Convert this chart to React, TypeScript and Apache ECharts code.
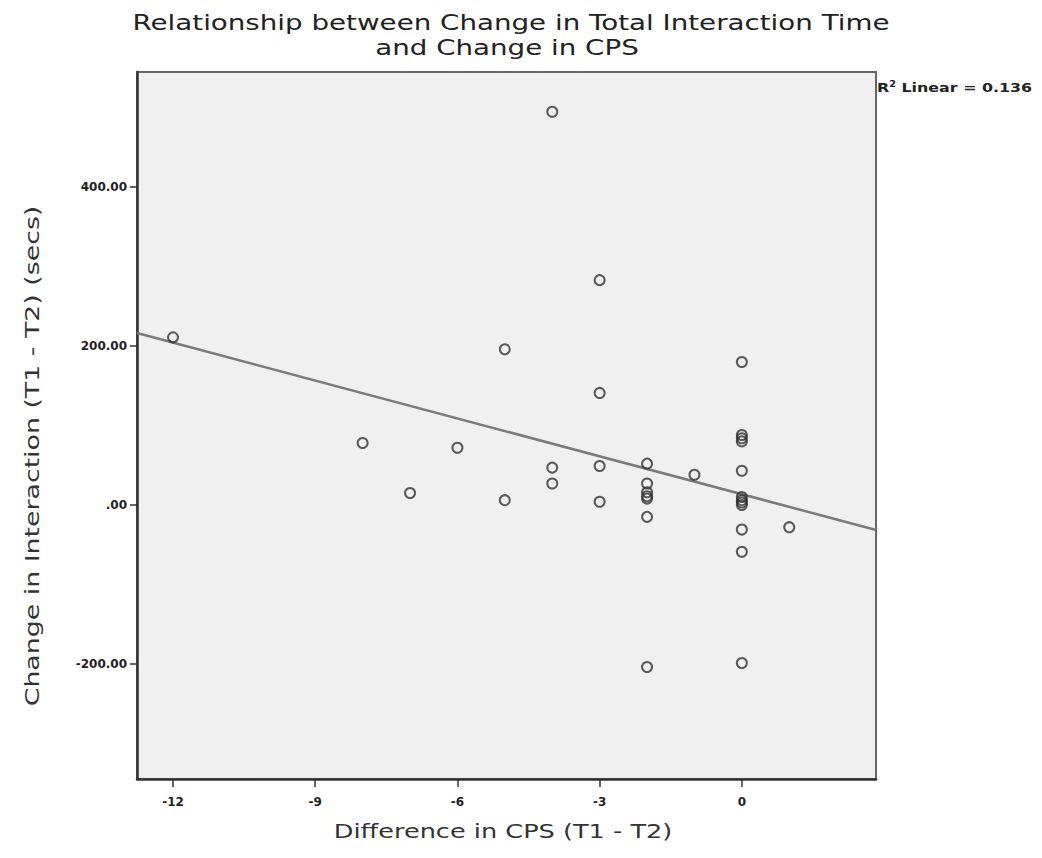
import React, { useEffect, useRef } from "react";
import * as echarts from "echarts";

// Difference in CPS (x) and change in interaction time (y)
const cpsDiff = [
  -12,
  -8,
  -7,
  -6,
  -5, -5,
  -4, -4, -4,
  -3, -3, -3, -3,
  -2, -2, -2, -2, -2, -2, -2,
  -1,
  0, 0, 0, 0, 0, 0, 0, 0, 0, 0, 0, 0,
  1,
];
const interactionChange = [
  211,
  78,
  15,
  72,
  196, 6,
  495, 47, 27,
  283, 141, 49, 4,
  52, 27, 16, 11, 8, -15, -204,
  38,
  180, 88, 84, 80, 43, 10, 6, 3, 0, -31, -59, -199,
  -28,
];

const xTicks = [-12, -9, -6, -3, 0];
const yTicks = [-200, 0, 200, 400];
const xRange = [-12.76, 2.83];
const yRange = [-345, 545];

// Linear fit
const fitIntercept = 13.5;
const fitSlope = -15.9;
const rSquared = "0.136";

const titleLines = [
  "Relationship between Change in Total Interaction Time",
  "and Change in CPS",
];
const xName = "Difference in CPS (T1 - T2)";
const yName = "Change in Interaction (T1 - T2) (secs)";

export default function App() {
  const ref = useRef<HTMLDivElement>(null);
  useEffect(() => {
    if (!ref.current) return;
    const chart = echarts.init(ref.current, null, { renderer: "svg" });
    const points = cpsDiff.map((x, i) => [x, interactionChange[i]]);
    const fitData = xRange.map((x) => [x, fitIntercept + fitSlope * x]);
    const tickLabel = {
      fontFamily: "DejaVu Sans",
      fontWeight: "bold" as const,
      fontSize: 12,
      color: "#222",
    };
    chart.setOption({
      animation: false,
      backgroundColor: "#ffffff",
      grid: {
        left: 137,
        top: 72,
        right: 166,
        bottom: 79,
        show: true,
        backgroundColor: "#f0f0f0",
        borderColor: "#666",
        borderWidth: 2,
      },
      xAxis: {
        type: "value",
        min: xRange[0],
        max: xRange[1],
        splitLine: { show: false },
        axisLine: { show: true, onZero: false, lineStyle: { color: "#333", width: 2.5 } },
        axisTick: {
          show: true,
          length: 8,
          customValues: xTicks,
          lineStyle: { color: "#333", width: 1.5 },
        },
        axisLabel: {
          ...tickLabel,
          margin: 17,
          customValues: xTicks,
          formatter: (v: number) => String(v),
        },
      },
      yAxis: {
        type: "value",
        min: yRange[0],
        max: yRange[1],
        splitLine: { show: false },
        axisLine: { show: true, onZero: false, lineStyle: { color: "#333", width: 2.5 } },
        axisTick: {
          show: true,
          length: 7,
          customValues: yTicks,
          lineStyle: { color: "#333", width: 1.5 },
        },
        axisLabel: {
          ...tickLabel,
          margin: 10,
          customValues: yTicks,
          formatter: (v: number) => (v === 0 ? ".00" : v.toFixed(2)),
        },
      },
      series: [
        {
          type: "line",
          data: fitData,
          showSymbol: false,
          symbol: "none",
          silent: true,
          lineStyle: { color: "#7a7a7a", width: 2.5 },
          z: 2,
        },
        {
          type: "scatter",
          data: points,
          symbol: "circle",
          symbolSize: 10,
          itemStyle: {
            color: "rgba(255,255,255,0)",
            borderColor: "#333",
            borderWidth: 2,
          },
          z: 3,
        },
      ],
      graphic: [
        {
          type: "text",
          x: 511,
          y: 23,
          scaleX: 1.32,
          style: {
            text: titleLines[0],
            textAlign: "center",
            textVerticalAlign: "middle",
            fontFamily: "DejaVu Sans",
            fontSize: 21,
            fill: "#222",
          },
        },
        {
          type: "text",
          x: 507,
          y: 48,
          scaleX: 1.32,
          style: {
            text: titleLines[1],
            textAlign: "center",
            textVerticalAlign: "middle",
            fontFamily: "DejaVu Sans",
            fontSize: 21,
            fill: "#222",
          },
        },
        {
          type: "text",
          x: 503,
          y: 831,
          scaleX: 1.28,
          style: {
            text: xName,
            textAlign: "center",
            textVerticalAlign: "middle",
            fontFamily: "DejaVu Sans",
            fontSize: 20,
            fill: "#333",
          },
        },
        {
          type: "text",
          x: 32,
          y: 456,
          rotation: Math.PI / 2,
          scaleX: 1.34,
          style: {
            text: yName,
            textAlign: "center",
            textVerticalAlign: "middle",
            fontFamily: "DejaVu Sans",
            fontSize: 20,
            fill: "#333",
          },
        },
        {
          type: "text",
          x: 877,
          y: 88,
          scaleX: 1.22,
          style: {
            text: "{b|R}{s|2}{b| Linear = " + rSquared + "}",
            textAlign: "left",
            textVerticalAlign: "middle",
            rich: {
              b: { fontFamily: "DejaVu Sans", fontWeight: "bold", fontSize: 13, fill: "#222" },
              s: {
                fontFamily: "DejaVu Sans",
                fontWeight: "bold",
                fontSize: 8,
                fill: "#222",
                padding: [0, 0, 8, 0],
              },
            },
          },
        },
      ],
    });
    return () => chart.dispose();
  }, []);
  return (
    <div
      ref={ref}
      style={{ position: "absolute", left: 0, top: 0, width: 1042, height: 858 }}
    />
  );
}
